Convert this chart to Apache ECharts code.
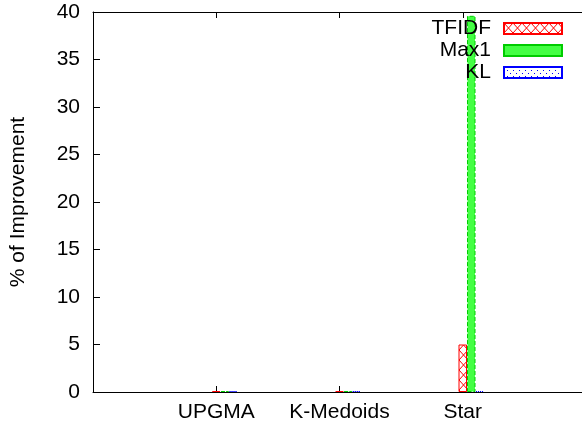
<!DOCTYPE html>
<html>
<head>
<meta charset="utf-8">
<script src="https://cdn.jsdelivr.net/npm/echarts@6/dist/echarts.min.js"></script>
<style>html,body{margin:0;padding:0;background:#fff;}#c{width:582px;height:429px;}</style>
</head>
<body>
<div id="c"></div>
<script>
// ---- data ----
var categories = ['UPGMA', 'K-Medoids', 'Star'];
var tfidf = [0.1, 0.1, 5.0];
var max1 = [0.1, 0.1, 39.6];
var kl = [0.1, 0.1, 0.1];
var yTicks = { min: 0, max: 40, interval: 5 };

// ---- fill patterns ----
function crossPattern() {
  var c = document.createElement('canvas');
  c.width = 9; c.height = 10;
  var g = c.getContext('2d');
  g.fillStyle = '#fff'; g.fillRect(0, 0, 9, 10);
  g.strokeStyle = '#ff0000'; g.lineWidth = 1;
  g.beginPath();
  g.moveTo(0, 0); g.lineTo(9, 10);
  g.moveTo(9, 0); g.lineTo(0, 10);
  g.stroke();
  return c;
}
function dotPattern() {
  var c = document.createElement('canvas');
  c.width = 6; c.height = 6;
  var g = c.getContext('2d');
  g.fillStyle = '#fff'; g.fillRect(0, 0, 6, 6);
  g.fillStyle = '#0000ff';
  g.fillRect(0, 0, 1, 1);
  g.fillRect(3, 3, 1, 1);
  return c;
}

var pad = function (arr) { return ['-'].concat(arr).concat(['-']); };
var axisCats = [''].concat(categories).concat(['']);
var FONT = 'Liberation Sans, Arial, Helvetica, sans-serif';
var BW = 8.5;

var chart = echarts.init(document.getElementById('c'), null, { renderer: 'canvas' });
chart.setOption({
  animation: false,
  backgroundColor: '#fff',
  textStyle: { fontFamily: FONT },
  grid: { left: 93, right: -4, top: 12, bottom: 37, containLabel: false, outerBoundsMode: 'none' },
  legend: {
    data: ['TFIDF', 'Max1', 'KL'],
    orient: 'vertical', align: 'right', right: 14, top: 13, icon: 'rect',
    itemWidth: 58, itemHeight: 11, itemGap: 1,
    textStyle: { fontFamily: FONT, fontSize: 21, color: '#000', padding: [0, 8, 0, 0], lineHeight: 21 }
  },
  xAxis: [{
    type: 'category', data: axisCats, boundaryGap: false,
    axisLine: { lineStyle: { color: '#000', width: 1 } },
    axisTick: { inside: true, length: 6, lineStyle: { color: '#000' } },
    axisLabel: { color: '#000', fontSize: 21, fontFamily: FONT, margin: 10, interval: 0 },
    splitLine: { show: false }
  }, {
    type: 'category', data: axisCats, boundaryGap: false, position: 'top',
    axisLine: { onZero: false, lineStyle: { color: '#000', width: 1 } },
    axisTick: { inside: true, length: 6, lineStyle: { color: '#000' } },
    axisLabel: { show: false }, splitLine: { show: false }
  }],
  yAxis: {
    type: 'value', min: yTicks.min, max: yTicks.max, interval: yTicks.interval,
    name: '% of Improvement', nameLocation: 'middle', nameRotate: 90, nameGap: 64,
    nameTextStyle: { color: '#000', fontSize: 21, fontFamily: FONT },
    axisLine: { show: true, onZero: false, lineStyle: { color: '#000', width: 1 } },
    axisTick: { show: true, inside: true, length: 7, lineStyle: { color: '#000' } },
    axisLabel: { color: '#000', fontSize: 21, fontFamily: FONT, margin: 13 },
    splitLine: { show: false }
  },
  series: [
    { name: '_a', type: 'bar', data: [], barWidth: BW, barGap: '0%' },
    { name: '_b', type: 'bar', data: [], barWidth: BW, barGap: '0%' },
    { name: 'TFIDF', type: 'bar', data: pad(tfidf), barWidth: BW, barGap: '0%',
      itemStyle: { color: { image: crossPattern(), repeat: 'repeat' }, borderColor: '#ff0000', borderWidth: 1 } },
    { name: 'Max1', type: 'bar', data: pad(max1), barWidth: BW, barGap: '0%',
      itemStyle: { color: '#44ff44', borderColor: '#00cc00', borderWidth: 1, borderType: 'dashed' } },
    { name: 'KL', type: 'bar', data: pad(kl), barWidth: BW, barGap: '0%',
      itemStyle: { color: { image: dotPattern(), repeat: 'repeat' }, borderColor: '#0000ff', borderWidth: 1, borderType: 'dotted' } }
  ]
});
</script>
</body>
</html>
